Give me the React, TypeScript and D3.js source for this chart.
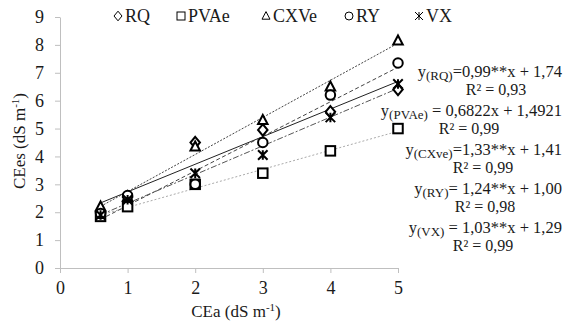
import React, { useRef, useEffect } from "react";
import * as d3 from "d3";

const xValues = [0.6, 1, 2, 3, 4, 5];
const seriesNames = ["RQ", "PVAe", "CXVe", "RY", "VX"];
const rqValues = [2.0, 2.55, 4.5, 4.95, 5.6, 6.4];
const pvaeValues = [1.85, 2.2, 3.0, 3.4, 4.2, 5.0];
const cxveValues = [2.2, 2.55, 4.35, 5.3, 6.5, 8.15];
const ryValues = [1.95, 2.6, 3.0, 4.5, 6.2, 7.35];
const vxValues = [1.9, 2.45, 3.4, 4.05, 5.4, 6.6];
// slope, intercept of each trend line
const trendCoefs = [
  [0.99, 1.74],
  [0.6822, 1.4921],
  [1.33, 1.41],
  [1.24, 1.0],
  [1.03, 1.29],
];
const equations = [
  { sub: "(RQ)", rest: "=0,99**x + 1,74", r2: "R² = 0,93" },
  { sub: "(PVAe)", rest: " = 0,6822x + 1,4921", r2: "R² = 0,99" },
  { sub: "(CXve)", rest: "=1,33**x + 1,41", r2: "R² = 0,99" },
  { sub: "(RY)", rest: "= 1,24**x + 1,00", r2: "R² = 0,98" },
  { sub: "(VX)", rest: " = 1,03**x + 1,29", r2: "R² = 0,99" },
];
const xTicks = [0, 1, 2, 3, 4, 5];
const yTicks = [0, 1, 2, 3, 4, 5, 6, 7, 8, 9];

const FONT = "Liberation Serif";

function drawMarker(g, kind, x, y, s, sw) {
  const h = s / 2;
  let p;
  if (kind === "RQ") {
    p = g.append("path").attr("d", `M${x},${y - h * 1.2}L${x + h},${y}L${x},${y + h * 1.2}L${x - h},${y}Z`);
  } else if (kind === "PVAe") {
    p = g.append("rect").attr("x", x - h).attr("y", y - h).attr("width", s).attr("height", s);
  } else if (kind === "CXVe") {
    p = g.append("path").attr("d", `M${x},${y - h * 1.1}L${x + h},${y + h * 0.8}L${x - h},${y + h * 0.8}Z`);
  } else if (kind === "RY") {
    p = g.append("circle").attr("cx", x).attr("cy", y).attr("r", h);
  } else {
    p = g
      .append("path")
      .attr("d", `M${x - h},${y - h}L${x + h},${y + h}M${x + h},${y - h}L${x - h},${y + h}M${x},${y - h}L${x},${y + h}`);
  }
  p.attr("fill", "white").attr("stroke", "black").attr("stroke-width", sw);
}

const App = () => {
  const svgRef = useRef(null);

  useEffect(() => {
    const width = 564;
    const height = 327;
    const margin = { top: 17, right: 166, bottom: 59, left: 60 };

    const svg = d3.select(svgRef.current).attr("width", width).attr("height", height);
    svg.selectAll("*").remove();

    svg.append("rect").attr("width", width).attr("height", height).attr("fill", "white");

    const x = d3.scaleLinear().domain([0, 5]).range([margin.left, width - margin.right]);
    const y = d3.scaleLinear().domain([0, 9]).range([height - margin.bottom, margin.top]);

    const axisColor = "#bfbfbf";

    const xAxis = svg
      .append("g")
      .attr("transform", `translate(0, ${y(0)})`)
      .call(
        d3.axisBottom(x).tickValues(xTicks).tickFormat(d3.format("d")).tickSize(5).tickSizeOuter(0).tickPadding(8)
      );
    const yAxis = svg
      .append("g")
      .attr("transform", `translate(${x(0)}, 0)`)
      .call(
        d3.axisLeft(y).tickValues(yTicks).tickFormat(d3.format("d")).tickSize(5).tickSizeOuter(0).tickPadding(11)
      );

    [xAxis, yAxis].forEach((a) => {
      a.attr("font-family", null);
      a.selectAll("path, line").attr("stroke", axisColor);
      a.selectAll("text").attr("font-size", 18).attr("fill", "#1a1a1a");
    });

    // axis titles
    const xt = svg
      .append("text")
      .attr("x", 236)
      .attr("y", 317)
      .attr("text-anchor", "middle")
      .attr("font-size", 17)
      .attr("fill", "#1a1a1a");
    xt.append("tspan").text("CEa (dS m");
    xt.append("tspan").attr("dy", -6).attr("font-size", 11).text("-1");
    xt.append("tspan").attr("dy", 6).text(")");

    const yt = svg
      .append("text")
      .attr("transform", `translate(25, 141) rotate(-90)`)
      .attr("text-anchor", "middle")
      .attr("font-size", 17)
      .attr("fill", "#1a1a1a");
    yt.append("tspan").text("CEes (dS m");
    yt.append("tspan").attr("dy", -6).attr("font-size", 11).text("-1");
    yt.append("tspan").attr("dy", 6).text(")");

    // trend lines
    const lineStyles = [
      { dash: null, color: "#222", w: 1 },
      { dash: "2,2", color: "#aaa", w: 1 },
      { dash: "2,1.5", color: "#444", w: 1 },
      { dash: "4,2.5", color: "#444", w: 1 },
      { dash: "6,2,2,2", color: "#555", w: 1 },
    ];
    trendCoefs.forEach(([m, b], i) => {
      const ln = svg
        .append("line")
        .attr("x1", x(0.6))
        .attr("y1", y(m * 0.6 + b))
        .attr("x2", x(5))
        .attr("y2", y(m * 5 + b))
        .attr("stroke", lineStyles[i].color)
        .attr("stroke-width", lineStyles[i].w);
      if (lineStyles[i].dash) ln.attr("stroke-dasharray", lineStyles[i].dash);
    });

    // markers
    const allValues = [rqValues, pvaeValues, cxveValues, ryValues, vxValues];
    const pts = svg.append("g");
    allValues.forEach((vals, i) => {
      vals.forEach((v, j) => {
        drawMarker(pts, seriesNames[i], x(xValues[j]), y(v), 9.5, 2);
      });
    });

    // legend
    const legendX = [118, 181, 266, 349, 419];
    const leg = svg.append("g");
    seriesNames.forEach((name, i) => {
      drawMarker(leg, name, legendX[i], 16, 8, 1);
      leg
        .append("text")
        .attr("x", legendX[i] + 7)
        .attr("y", 22)
        .attr("font-size", 18)
        .attr("fill", "#1a1a1a")
        .text(name);
    });

    // equations
    const eqY = [77, 116, 155, 194, 233];
    const r2X = [496, 469, 483, 485, 483];
    const eqG = svg.append("g").attr("fill", "#1a1a1a");
    equations.forEach((e, i) => {
      const t = eqG
        .append("text")
        .attr("x", 562)
        .attr("y", eqY[i])
        .attr("text-anchor", "end")
        .attr("font-size", 16.5);
      t.append("tspan").text("y");
      t.append("tspan").attr("dy", 3).attr("font-size", 13).text(e.sub);
      t.append("tspan").attr("dy", -3).text(e.rest);
      eqG
        .append("text")
        .attr("x", r2X[i])
        .attr("y", eqY[i] + 18)
        .attr("text-anchor", "middle")
        .attr("font-size", 16)
        .text(e.r2);
    });

    svg.selectAll("text").style("font-family", FONT);
  }, []);

  return <svg ref={svgRef} style={{ position: "absolute", left: 0, top: 0 }}></svg>;
};

export default App;
